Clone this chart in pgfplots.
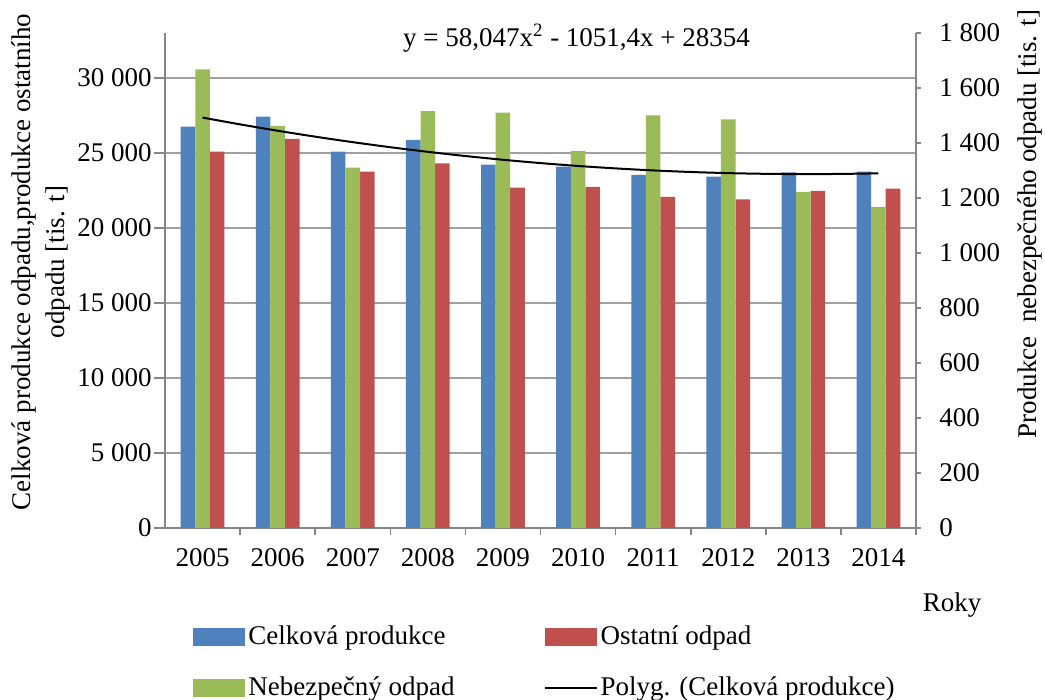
\documentclass[border=0pt]{standalone}
\usepackage{pgfplots}
\pgfplotsset{compat=1.18}
\usepackage{pgfplotstable}
\usepackage{fontspec}
\setmainfont{Liberation Serif}
\definecolor{cblue}{HTML}{4F81BD}
\definecolor{cred}{HTML}{C0504D}
\definecolor{cgreen}{HTML}{9BBB59}
\definecolor{axgray}{HTML}{868686}
\definecolor{grgray}{HTML}{A0A0A0}

\pgfplotstableread{
x celk ost neb
0 26753 25087 1668
1 27420 25933 1462
2 25087 23753 1310
3 25867 24311 1516
4 24220 22687 1510
5 24087 22733 1371
6 23533 22067 1500
7 23420 21913 1486
8 23713 22467 1222
9 23753 22620 1168
}\data

\pgfplotsset{
  barleg/.style={legend image code/.code={\fill[##1] (0pt,-4.5pt) rectangle (26pt,4.5pt);}},
  lineleg/.style={legend image code/.code={\draw[##1] (0pt,0pt) -- (26pt,0pt);}},
  common/.style={
    at={(0,0)}, anchor=south west, scale only axis,
    width=375.5pt, height=247.5pt,
    xmin=-0.5, xmax=9.5,
    tick align=outside,
    axis line style={-, axgray, line width=0.8pt},
    every tick/.style={axgray, line width=0.8pt},
    /pgf/number format/assume math mode=true,
    /pgf/number format/1000 sep={\ },
    scaled y ticks=false,
  },
}

\begin{document}
\fontsize{13.5pt}{17pt}\selectfont
\begin{tikzpicture}[font=\fontsize{13.5pt}{17pt}\selectfont]
\useasboundingbox (-82.5pt,-86pt) rectangle (440pt,264pt);
% primary axis: blue & red bars
\begin{axis}[common,
  ymin=0, ymax=33000,
  axis x line*=bottom, axis y line*=left,
  ytick={0,5000,...,30000},
  ymajorgrids, grid style={grgray, line width=0.8pt},
  major tick length=5.5pt,
  yticklabel style={anchor=east, inner sep=0pt, xshift=-1pt},
  xtick={0,...,9},
  xticklabels={2005,2006,2007,2008,2009,2010,2011,2012,2013,2014},
  major x tick style={draw=none},
  minor xtick={0.5,1.5,...,9.5},
  minor tick length=3.5pt,
  xticklabel style={anchor=north, inner sep=0pt, yshift=-4.5pt},
]
\addplot[ybar, bar width=0.194, bar shift=-0.194, fill=cblue, draw=none] table[x=x,y=celk] {\data};
\addplot[ybar, bar width=0.194, bar shift=0.194, fill=cred, draw=none] table[x=x,y=ost] {\data};
\end{axis}
% secondary axis: green bars
\begin{axis}[common,
  ymin=0, ymax=1800,
  axis y line*=right, axis x line=none,
  ytick={0,200,...,1800},
  major tick length=2.5pt,
  yticklabel style={anchor=west, inner sep=0pt, xshift=9pt},
]
\addplot[ybar, bar width=0.194, bar shift=0, fill=cgreen, draw=none] table[x=x,y=neb] {\data};
\end{axis}
% trend line and legend
\begin{axis}[common,
  ymin=0, ymax=33000, hide axis, clip=false,
  legend columns=2,
  legend cell align=left,
  legend style={at={(0.0373,-0.19)}, anchor=north west, draw=none, fill=none,
    inner sep=0pt, row sep=11pt,
    nodes={inner sep=1.5pt},
    /tikz/every even column/.append style={column sep=43pt}},
]
\addlegendimage{barleg, fill=cblue, draw=none}
\addlegendentry{Celková produkce}
\addlegendimage{barleg, fill=cred, draw=none}
\addlegendentry{Ostatní odpad}
\addlegendimage{barleg, fill=cgreen, draw=none}
\addlegendentry{Nebezpečný odpad}
\addplot[lineleg, black, line width=1pt, smooth] coordinates {
  (0,27360.6) (0.5,26907.5) (1,26483.4) (1.5,26088.3) (2,25722.2) (2.5,25385.2)
  (3,25077.2) (3.5,24798.2) (4,24548.2) (4.5,24327.2) (5,24135.3) (5.5,23972.4)
  (6,23838.5) (6.5,23733.6) (7,23657.8) (7.5,23611.0) (8,23593.2) (8.5,23604.4)
  (9,23644.7)
};
\addlegendentry{Polyg. (Celková produkce)}
\node at (axis cs:4.98,32670) {y = 58,047x\textsuperscript{2} - 1051,4x + 28354};
\end{axis}
\node[rotate=90, align=center] at (-62pt,133pt) {Celková produkce odpadu,produkce ostatního\\odpadu [tis. t]};
\node[rotate=90] at (432.5pt,152pt) {Produkce\ \ nebezpečného odpadu [tis. t]};
\node at (393.5pt,-38.5pt) {Roky};
\end{tikzpicture}
\end{document}
